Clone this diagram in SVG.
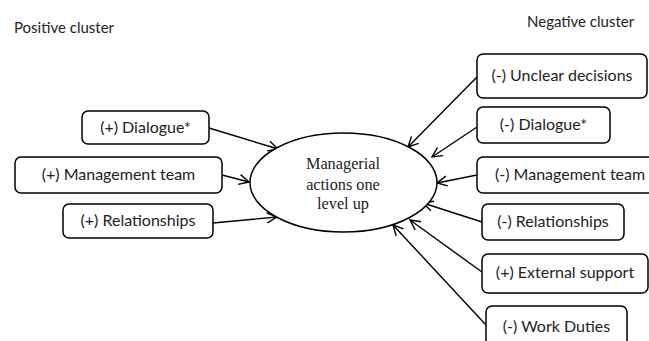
<svg xmlns="http://www.w3.org/2000/svg" width="649" height="341" viewBox="0 0 649 341">
<style>
.box{fill:#fff;stroke:#000;stroke-width:1.5}
.t{font-family:Lato,"Liberation Sans",sans-serif;font-size:16px;fill:#222;text-anchor:middle}
.title{font-family:Lato,"Liberation Sans",sans-serif;font-size:15px;fill:#222}
.c{font-family:"Liberation Serif",serif;font-size:16.3px;fill:#222;text-anchor:middle}
.conn line{stroke:#000;stroke-width:1.4;marker-end:url(#ah)}
</style>
<defs>
<marker id="ah" markerUnits="userSpaceOnUse" markerWidth="14" markerHeight="14" viewBox="-12 -7 14 14" refX="0" refY="0" orient="auto">
<path d="M -10 -5 L 0 0 L -10 5" fill="none" stroke="#000" stroke-width="1.4"/>
</marker>
</defs>
<rect width="649" height="341" fill="#fff"/>
<text class="title" x="14" y="33">Positive cluster</text>
<text class="title" x="527" y="27">Negative cluster</text>
<g class="conn">
<line x1="209" y1="128" x2="278" y2="149"/>
<line x1="222" y1="175" x2="249" y2="182"/>
<line x1="213" y1="223" x2="277" y2="217"/>
<line x1="477" y1="77" x2="408" y2="147"/>
<line x1="477" y1="127" x2="432" y2="157"/>
<line x1="477" y1="175" x2="437" y2="183"/>
<line x1="482" y1="222" x2="423" y2="203"/>
<line x1="482" y1="272" x2="410" y2="220"/>
<line x1="486" y1="325" x2="393" y2="225"/>
</g>
<g id="center">
<ellipse cx="343.5" cy="182.5" rx="93.5" ry="49.5" fill="#fff" stroke="#000" stroke-width="1.5"/>
<text class="c" x="343" y="169">Managerial</text>
<text class="c" x="343" y="190">actions one</text>
<text class="c" x="343" y="209">level up</text>
</g>
<g id="p-dialogue"><rect class="box" x="82" y="111" width="127" height="33" rx="6"/><text class="t" x="145.5" y="133">(+) Dialogue*</text></g>
<g id="p-mgmt"><rect class="box" x="15" y="157" width="207" height="36" rx="6"/><text class="t" x="118.5" y="180">(+) Management team</text></g>
<g id="p-rel"><rect class="box" x="63" y="204" width="150" height="34" rx="6"/><text class="t" x="138" y="226">(+) Relationships</text></g>
<g id="n-unclear"><rect class="box" x="477" y="54" width="170" height="44" rx="6"/><text class="t" x="562" y="81">(-) Unclear decisions</text></g>
<g id="n-dialogue"><rect class="box" x="477" y="107" width="133" height="36" rx="6"/><text class="t" x="543.5" y="130">(-) Dialogue*</text></g>
<g id="n-mgmt"><rect class="box" x="477" y="157" width="180" height="36" rx="6"/><text class="t" x="495" y="180" style="text-anchor:start">(-) Management team</text></g>
<g id="n-rel"><rect class="box" x="482" y="204" width="142" height="36" rx="6"/><text class="t" x="553" y="227">(-) Relationships</text></g>
<g id="n-ext"><rect class="box" x="482" y="254" width="166" height="39" rx="6"/><text class="t" x="565" y="278">(+) External support</text></g>
<g id="n-work"><rect class="box" x="486" y="306" width="141" height="45" rx="6"/><text class="t" x="556.5" y="332">(-) Work Duties</text></g>
</svg>
